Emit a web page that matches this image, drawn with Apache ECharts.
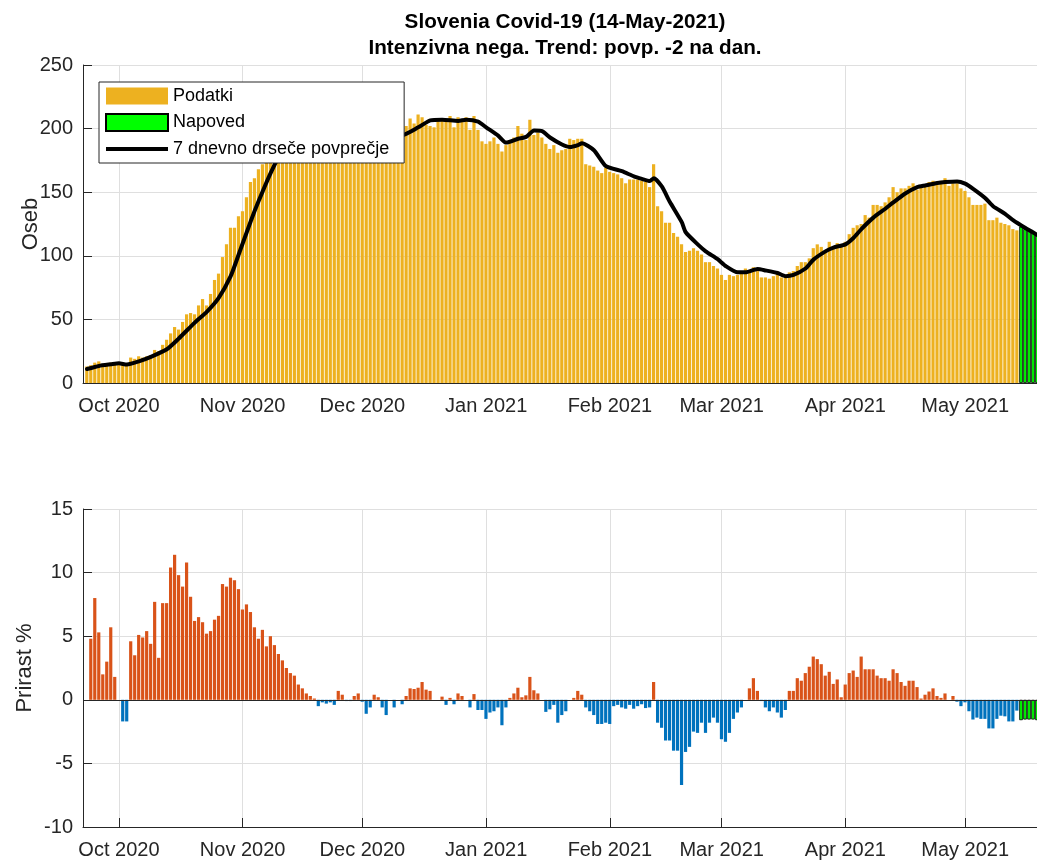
<!DOCTYPE html>
<html>
<head>
<meta charset="utf-8">
<title>Slovenia Covid-19 - Intenzivna nega</title>
<script src="https://cdn.jsdelivr.net/npm/echarts@6/dist/echarts.min.js"></script>
<style>
  html, body { margin: 0; padding: 0; background: #fff; }
  #chart { width: 1037px; height: 861px; }
</style>
</head>
<body>
<div id="chart"></div>
<script>
// os x: vsak dan od 22.9.2020 do 19.5.2021
const prviDan = "2020-09-22";
const steviloDni = 240;

// intenzivna nega (oseb), od 23.9.2020 do 14.5.2021
const podatki = [
  13, 14, 16, 17, 15, 15, 16, 16,
  15, 15, 15, 20, 19, 21, 20, 21, 22, 26, 25, 30, 34, 39, 44, 42, 48, 54, 55, 54, 61, 66, 61, 70, 81, 86, 99, 109, 122, 122, 131,
  135, 146, 158, 161, 168, 172, 178, 184, 190, 193, 197, 200, 203, 205, 204, 207, 206, 203, 205, 201, 200, 202, 199, 198, 203, 204, 200, 199, 202, 203,
  199, 195, 196, 200, 199, 195, 192, 194, 193, 195, 196, 202, 208, 204, 211, 209, 203, 202, 201, 207, 207, 206, 210, 201, 209, 206, 209, 199, 210, 199, 190,
  188, 190, 193, 188, 182, 187, 191, 193, 202, 196, 191, 207, 195, 197, 193, 188, 184, 187, 181, 183, 184, 192, 191, 192, 192, 172, 171, 170, 167, 165, 169,
  166, 165, 164, 161, 157, 160, 160, 160, 159, 158, 154, 172, 139, 135, 126, 126, 118, 115, 109, 103, 104, 106, 104, 101, 95, 95, 92, 90,
  85, 81, 85, 84, 85, 86, 90, 88, 91, 88, 83, 83, 82, 84, 86, 83, 83, 87, 88, 92, 95, 95, 98, 106, 109, 107, 104, 111, 107, 110, 109,
  111, 117, 122, 124, 125, 132, 130, 140, 140, 139, 142, 146, 154, 150, 153, 153, 155, 157, 152, 154, 155, 158, 159, 158, 159, 161, 155, 157, 157, 153,
  151, 146, 140, 140, 140, 141, 128, 128, 130, 126, 125, 124, 121, 120
];
// napoved od 15.5. do 19.5.2021
const napoved = [123, 121, 120, 118, 116];

// 7 dnevno drseče povprečje
const povprecjeDatumi = [
  "2020-09-23", "2020-09-26", "2020-09-29", "2020-10-01", "2020-10-03", "2020-10-06", "2020-10-09", "2020-10-13",
  "2020-10-16", "2020-10-20", "2020-10-23", "2020-10-26", "2020-10-29", "2020-10-31", "2020-11-03", "2020-11-05",
  "2020-11-08", "2020-11-11", "2020-11-15", "2020-11-20", "2020-11-26", "2020-12-02", "2020-12-07", "2020-12-11",
  "2020-12-15", "2020-12-18", "2020-12-21", "2020-12-25", "2020-12-27", "2020-12-30", "2021-01-01", "2021-01-04",
  "2021-01-06", "2021-01-09", "2021-01-11", "2021-01-13", "2021-01-15", "2021-01-17", "2021-01-20", "2021-01-22",
  "2021-01-24", "2021-01-25", "2021-01-28", "2021-01-31", "2021-02-04", "2021-02-07", "2021-02-09", "2021-02-11",
  "2021-02-12", "2021-02-14", "2021-02-16", "2021-02-19", "2021-02-20", "2021-02-23", "2021-02-25", "2021-02-28",
  "2021-03-02", "2021-03-05", "2021-03-07", "2021-03-10", "2021-03-12", "2021-03-15", "2021-03-17", "2021-03-19",
  "2021-03-22", "2021-03-24", "2021-03-27", "2021-03-29", "2021-04-01", "2021-04-03", "2021-04-05", "2021-04-08",
  "2021-04-11", "2021-04-13", "2021-04-16", "2021-04-19", "2021-04-21", "2021-04-24", "2021-04-26", "2021-04-29",
  "2021-05-01", "2021-05-03", "2021-05-06", "2021-05-08", "2021-05-11", "2021-05-13", "2021-05-16", "2021-05-19"
];
const povprecje = [
  11, 13.4, 14.7, 15.5, 14.5, 17, 20.5, 26.5,
  35, 47.5, 56, 67, 84, 101, 127, 143,
  165, 183, 198, 203, 202, 199, 196, 195,
  201, 206.5, 207, 206, 207, 205.5, 201, 194.5,
  189, 192, 193.5, 198.5, 198, 193, 187.5, 185.5,
  187, 188.5, 183, 170.5, 166.5, 162.5, 160.5, 158.8,
  161, 154.5, 142.5, 126.5, 118.5, 109, 103.5, 97.3,
  92, 87, 87, 89.6, 88.5, 86.5, 84, 85,
  90, 97, 103.5, 106.5, 109, 114, 121, 130,
  137, 142, 149, 154, 155.3, 157.2, 158, 158.5,
  156.7, 152.7, 145.5, 139, 133, 128, 122, 116.5
];

// dnevni prirast v %, od 24.9.2020 do 14.5.2021
const prirast = [
  4.8, 8.0, 5.3, 2.0, 3.0, 5.7, 1.8,
  0, -1.7, -1.7, 4.6, 3.5, 5.1, 4.9, 5.4, 4.4, 7.7, 3.3, 7.6, 7.6, 10.4, 11.4, 9.8, 8.9, 10.8, 8.1, 6.2, 6.5, 6.1, 5.2, 5.4, 6.3, 6.6, 9.1, 8.9, 9.6, 9.4, 8.7,
  7.1, 7.5, 6.9, 5.7, 4.8, 5.5, 4.2, 5.0, 4.3, 3.6, 3.1, 2.5, 2.1, 1.9, 1.2, 0.9, 0.5, 0.3, 0.1, -0.5, -0.2, -0.3, -0.2, -0.4, 0.7, 0.4, -0.1, -0.1, 0.3, 0.5,
  -0.15, -1.1, -0.6, 0.4, 0.2, -0.6, -1.2, 0, -0.6, 0, -0.35, 0.3, 0.9, 0.85, 0.95, 1.4, 0.8, 0.7, 0, 0, 0.25, -0.4, 0.15, -0.35, 0.5, 0.3, 0, -0.6, 0.45, -0.8, -0.8,
  -1.5, -1.0, -0.9, -0.6, -2.0, -0.6, 0.15, 0.5, 0.95, 0.2, 0.35, 1.8, 0.75, 0.5, 0, -0.95, -0.75, -0.4, -1.8, -1.2, -0.9, 0, 0.15, 0.7, 0.4, -0.6, -0.9, -1.2, -1.9, -1.9, -1.8,
  -1.9, -0.5, -0.4, -0.6, -0.7, -0.4, -0.7, -0.5, -0.35, -0.65, -0.6, 1.4, -1.8, -2.2, -3.2, -3.2, -4.0, -4.0, -6.7, -4.1, -3.7, -2.5, -2.6, -1.8, -2.6, -1.8, -1.4, -1.8,
  -3.1, -3.3, -2.6, -1.5, -1.0, -0.6, 0, 0.9, 1.7, 0.7, -0.1, -0.6, -0.9, -0.6, -1.0, -1.4, -0.8, 0.7, 0.7, 1.7, 1.5, 2.1, 2.6, 3.4, 3.2, 2.8, 1.9, 2.2, 1.25, 1.6, 0.2,
  1.2, 2.1, 2.3, 1.8, 3.4, 2.4, 2.4, 2.4, 1.9, 1.7, 1.7, 1.5, 2.4, 2.1, 1.4, 1.1, 1.5, 1.5, 1.0, 0.1, 0.4, 0.65, 0.9, 0.3, 0.15, 0.5, 0, 0.3, -0.15, -0.5,
  -0.2, -0.9, -1.55, -1.4, -1.5, -1.5, -2.25, -2.25, -1.5, -1.25, -1.3, -1.7, -1.7, -0.85
];
const prirastNapoved = [-1.6, -1.55, -1.55, -1.55, -1.6];

const meseci = ["Jan", "Feb", "Mar", "Apr", "May", "Jun", "Jul", "Aug", "Sep", "Oct", "Nov", "Dec"];

const pisava = "Liberation Sans, Arial, Helvetica, sans-serif";
const siva = "#262626";
const mreza = "#dfdfdf";

// kategorije (datumi)
let dni = [];
let zacetek = Date.parse(prviDan + "T00:00:00Z");
for (let i = 0; i < steviloDni; i++) {
  dni.push(new Date(zacetek + i * 86400000).toISOString().slice(0, 10));
}
let zamik = dni.indexOf("2020-09-23");
let zamikPrirast = dni.indexOf("2020-09-24");
let zamikNapoved = dni.indexOf("2021-05-15");

function naOs(vrednosti, od) {
  let arr = new Array(steviloDni).fill(null);
  vrednosti.forEach((v, i) => { arr[od + i] = v; });
  return arr;
}

function prviVMesecu(index, value) {
  return value.slice(8) === "01";
}

function osX(grid) {
  return {
    type: "category",
    gridIndex: grid,
    data: dni,
    boundaryGap: false,
    axisLine: { onZero: false, lineStyle: { color: siva, width: 1 } },
    axisTick: { inside: true, length: 9, interval: prviVMesecu, lineStyle: { color: siva } },
    axisLabel: {
      interval: prviVMesecu,
      margin: 13,
      color: siva,
      fontSize: 20,
      fontFamily: pisava,
      formatter: v => meseci[+v.slice(5, 7) - 1] + " " + v.slice(0, 4)
    },
    splitLine: { show: true, interval: prviVMesecu, lineStyle: { color: mreza } }
  };
}

function osY(grid, min, max, korak, ime, razmik) {
  return {
    type: "value",
    gridIndex: grid,
    min: min,
    max: max,
    interval: korak,
    name: ime,
    nameLocation: "middle",
    nameGap: razmik,
    nameMoveOverlap: false,
    nameTextStyle: { color: siva, fontSize: 22, fontFamily: pisava },
    axisLine: { show: true, lineStyle: { color: siva } },
    axisTick: { show: true, inside: true, length: 9, lineStyle: { color: siva } },
    axisLabel: { color: siva, fontSize: 20, fontFamily: pisava, margin: 10 },
    splitLine: { show: true, lineStyle: { color: mreza } }
  };
}

let chart = echarts.init(document.getElementById("chart"));

let option = {
  animation: false,
  backgroundColor: "#fff",
  graphic: [
    {
      type: "text", x: 565, y: 22,
      style: {
        text: "Slovenia Covid-19 (14-May-2021)", x: 0, y: 0,
        align: "center", verticalAlign: "middle",
        font: "bold 20.7px " + pisava, fill: "#000"
      }
    },
    {
      type: "text", x: 565, y: 48,
      style: {
        text: "Intenzivna nega. Trend: povp. -2 na dan.", x: 0, y: 0,
        align: "center", verticalAlign: "middle",
        font: "bold 20.7px " + pisava, fill: "#000"
      }
    }
  ],
  grid: [
    { left: 83, top: 65, width: 954, height: 318 },
    { left: 83, top: 509, width: 954, height: 318 }
  ],
  legend: {
    data: [
      { name: "Podatki", icon: "rect" },
      { name: "Napoved", icon: "rect" },
      { name: "7 dnevno drseče povprečje", icon: "path://M0 0H62V4H0Z", itemStyle: { color: "#000" } }
    ],
    orient: "vertical",
    left: 99,
    top: 82,
    itemWidth: 62,
    itemHeight: 17,
    itemGap: 8,
    padding: [5, 15, 5, 6],
    backgroundColor: "#fff",
    borderColor: siva,
    borderWidth: 1,
    borderRadius: 0,
    selectedMode: false,
    textStyle: { color: "#000", fontSize: 18, fontFamily: pisava },
    z: 10
  },
  xAxis: [osX(0), osX(1)],
  yAxis: [
    osY(0, 0, 250, 50, "Oseb", 41),
    osY(1, -10, 15, 5, "Prirast %", 47)
  ],
  series: [
    {
      name: "Podatki",
      type: "bar",
      xAxisIndex: 0,
      yAxisIndex: 0,
      barWidth: "80%",
      barGap: "-100%",
      itemStyle: { color: "#EDB120" },
      data: naOs(podatki, zamik)
    },
    {
      name: "Napoved",
      type: "bar",
      xAxisIndex: 0,
      yAxisIndex: 0,
      barWidth: "90%",
      barGap: "-100%",
      itemStyle: { color: "#00FF00", borderColor: "#000", borderWidth: 0.8 },
      data: naOs(napoved, zamikNapoved)
    },
    {
      name: "7 dnevno drseče povprečje",
      type: "line",
      xAxisIndex: 0,
      yAxisIndex: 0,
      symbol: "none",
      smooth: 0.2,
      z: 5,
      itemStyle: { color: "#000" },
      lineStyle: { color: "#000", width: 4, join: "round", cap: "round" },
      data: povprecjeDatumi.map((d, i) => [d, povprecje[i]])
    },
    {
      name: "Prirast",
      type: "bar",
      xAxisIndex: 1,
      yAxisIndex: 1,
      barWidth: "80%",
      barGap: "-100%",
      itemStyle: {
        color: p => (p.value >= 0 ? "#D95319" : "#0072BD")
      },
      markLine: {
        silent: true,
        symbol: "none",
        label: { show: false },
        lineStyle: { color: siva, width: 1, type: "solid" },
        data: [{ yAxis: 0 }]
      },
      data: naOs(prirast, zamikPrirast)
    },
    {
      name: "Prirast napoved",
      type: "bar",
      xAxisIndex: 1,
      yAxisIndex: 1,
      barWidth: "90%",
      barGap: "-100%",
      itemStyle: { color: "#00FF00", borderColor: "#000", borderWidth: 0.8 },
      data: naOs(prirastNapoved, zamikNapoved)
    }
  ]
};

chart.setOption(option);
</script>
</body>
</html>
